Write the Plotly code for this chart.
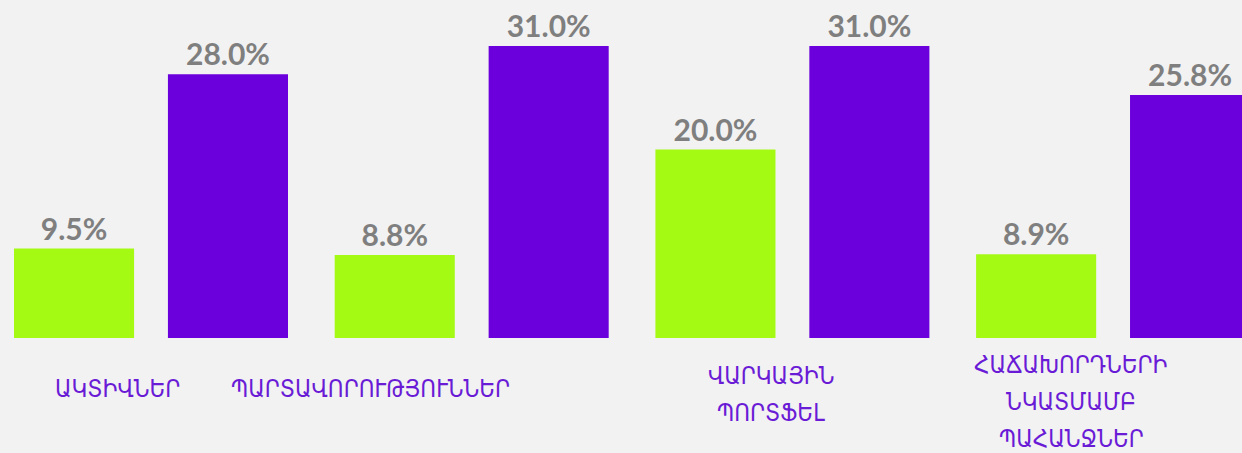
import plotly.graph_objects as go

categories = ["ԱԿՏԻՎՆԵՐ", "ՊԱՐՏԱՎՈՐՈՒԹՅՈՒՆՆԵՐ", "ՎԱՐԿԱՅԻՆ<br>ՊՈՐՏՖԵԼ", "ՀԱՃԱԽՈՐԴՆԵՐԻ<br>ՆԿԱՏՄԱՄԲ<br>ՊԱՀԱՆՋՆԵՐ"]
series_green = [9.5, 8.8, 20.0, 8.9]
series_purple = [28.0, 31.0, 31.0, 25.8]

# label layout (pixel offsets from category centre / vertical centre in px)
label_xshift = [-34, -101, -21, -42]
label_ycenter_px = [389, 389, 394, 402]
line_step_px = 37

W, H = 1242, 453
plot_bottom = 338
GREEN = "#a5fa14"
PURPLE = "#6b00dc"
LABEL_PURPLE = "#6a1bd6"
GREY = "#7f7f7f"

x = list(range(len(categories)))
fig = go.Figure()
for vals, col in [(series_green, GREEN), (series_purple, PURPLE)]:
    fig.add_trace(go.Bar(
        x=x, y=vals, marker=dict(color=col, line=dict(width=0)),
        texttemplate="%{y:.1f}%", textposition="outside", cliponaxis=False,
        textfont=dict(family="Lato, Roboto, DejaVu Sans", size=30, color=GREY, weight="bold"),
        hoverinfo="skip", showlegend=False,
    ))

for i, (cat, xs, yc) in enumerate(zip(categories, label_xshift, label_ycenter_px)):
    lines = cat.split("<br>")
    n = len(lines)
    for k, line in enumerate(lines):
        ypx = yc + (k - (n - 1) / 2) * line_step_px
        fig.add_annotation(
            x=i, xref="x", y=(plot_bottom - ypx) / plot_bottom, yref="paper",
            text=line, showarrow=False, xshift=xs, xanchor="center", yanchor="middle",
            align="center",
            font=dict(family="DejaVu Sans Condensed, DejaVu Sans", size=24, color=LABEL_PURPLE),
        )

cat_spacing = 320.7
first_center = 151
fig.update_layout(
    width=W, height=H,
    margin=dict(l=0, r=0, t=0, b=H - plot_bottom),
    paper_bgcolor="#f2f2f2", plot_bgcolor="#f2f2f2",
    barmode="group", bargap=0.04, bargroupgap=0.22,
    hovermode=False,
    xaxis=dict(range=[-first_center / cat_spacing, (W - first_center) / cat_spacing],
               showticklabels=False, showgrid=False, zeroline=False, showline=False, ticks=""),
    yaxis=dict(range=[0, plot_bottom / 9.42], showticklabels=False, showgrid=False,
               zeroline=False, showline=False, ticks=""),
)
fig.write_html("out.html", config={"displayModeBar": False},
               post_script="document.body.style.margin='0';document.body.style.overflow='hidden';")
